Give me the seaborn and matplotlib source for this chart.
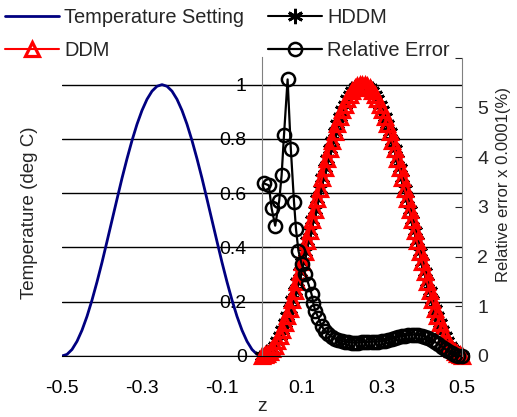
import numpy as np
import matplotlib
matplotlib.use('Agg')
import matplotlib.pyplot as plt
import seaborn as sns
from matplotlib.lines import Line2D

# temperature setting, z from -0.5 to 0
temp_setting = [0, 0.006, 0.024, 0.054, 0.095, 0.146, 0.206, 0.273, 0.345, 0.422,
                0.5, 0.578, 0.655, 0.727, 0.794, 0.854, 0.905, 0.946, 0.976, 0.994,
                1.0, 0.994, 0.976, 0.946, 0.905, 0.854, 0.794, 0.727, 0.655, 0.578,
                0.5, 0.422, 0.345, 0.273, 0.206, 0.146, 0.095, 0.054, 0.024, 0.006, 0]

# DDM / HDDM results, z from 0 to 0.5
ddm = [0, 0.002, 0.006, 0.014, 0.024, 0.038, 0.054, 0.074, 0.095, 0.120,
       0.146, 0.175, 0.206, 0.239, 0.273, 0.309, 0.345, 0.383, 0.422, 0.461,
       0.5, 0.539, 0.578, 0.617, 0.655, 0.691, 0.727, 0.761, 0.794, 0.825,
       0.854, 0.880, 0.905, 0.926, 0.946, 0.962, 0.976, 0.986, 0.994, 0.998,
       1.0, 0.998, 0.994, 0.986, 0.976, 0.962, 0.946, 0.926, 0.905, 0.880,
       0.854, 0.825, 0.794, 0.761, 0.727, 0.691, 0.655, 0.617, 0.578, 0.539,
       0.5, 0.461, 0.422, 0.383, 0.345, 0.309, 0.273, 0.239, 0.206, 0.175,
       0.146, 0.120, 0.095, 0.074, 0.054, 0.038, 0.024, 0.014, 0.006, 0.002, 0]
hddm = list(ddm)

# relative error (x 0.0001 %)
err_z = [0.005, 0.017, 0.024, 0.033, 0.043, 0.049, 0.055, 0.064, 0.072, 0.080,
         0.085, 0.091, 0.099, 0.108, 0.116, 0.124, 0.128, 0.133, 0.141, 0.149,
         0.158, 0.166, 0.175, 0.183, 0.191, 0.200, 0.208, 0.216, 0.225, 0.233,
         0.241, 0.250, 0.258, 0.266, 0.275, 0.283, 0.291, 0.300, 0.308, 0.316,
         0.325, 0.333, 0.341, 0.350, 0.358, 0.366, 0.375, 0.383, 0.391, 0.400,
         0.408, 0.416, 0.425, 0.433, 0.441, 0.450, 0.458, 0.466, 0.475, 0.483,
         0.491, 0.500]
rel_err = [3.47, 3.43, 2.97, 2.62, 3.12, 3.63, 4.44, 5.56, 4.17, 3.10,
           2.55, 2.12, 1.85, 1.65, 1.45, 1.24, 1.07, 0.91, 0.77, 0.60,
           0.50, 0.44, 0.39, 0.35, 0.32, 0.30, 0.29, 0.28, 0.27, 0.27,
           0.27, 0.28, 0.28, 0.28, 0.29, 0.29, 0.29, 0.30, 0.31, 0.32,
           0.34, 0.36, 0.38, 0.40, 0.41, 0.42, 0.43, 0.43, 0.42, 0.41,
           0.39, 0.36, 0.32, 0.28, 0.24, 0.19, 0.14, 0.10, 0.06, 0.03,
           0.01, 0.00]

x_ticks = [-0.5, -0.3, -0.1, 0.1, 0.3, 0.5]
x_labels = ['-0.5', '-0.3', '-0.1', '0.1', '0.3', '0.5']
temp_ticks = [0, 0.2, 0.4, 0.6, 0.8, 1.0]
temp_labels = ['0', '0.2', '0.4', '0.6', '0.8', '1']
err_ticks = [0, 1, 2, 3, 4, 5, 6]
err_labels = ['0', '1', '2', '3', '4', '5', '']

temp_z = np.linspace(-0.5, 0, len(temp_setting))
sim_z = np.linspace(0, 0.5, len(ddm))

sns.set_style('white')
plt.rcParams['font.family'] = ['Liberation Sans', 'DejaVu Sans']
plt.rcParams['font.size'] = 14

fig = plt.figure(figsize=(5.17, 4.17), dpi=100)
ax = fig.add_axes([62 / 517, 61 / 417, 400 / 517, 298.5 / 417])
ax2 = ax.twinx()

temp_kw = dict(color='#000080', linewidth=2)
hddm_kw = dict(color='black', linewidth=1.5, marker=(6, 2, 0), markersize=11,
               markeredgewidth=2, markeredgecolor='black')
ddm_kw = dict(color='red', linewidth=1.5, marker='^', markersize=10.5, markerfacecolor='none',
              markeredgecolor='red', markeredgewidth=2.3)
err_kw = dict(color='black', linewidth=1.6, marker='o', markersize=9.5, markerfacecolor='none',
              markeredgecolor='black', markeredgewidth=1.8)

sns.lineplot(x=temp_z, y=temp_setting, ax=ax, estimator=None, legend=False, **temp_kw)
sns.lineplot(x=sim_z, y=hddm, ax=ax, estimator=None, legend=False, clip_on=False, **hddm_kw)
sns.lineplot(x=sim_z, y=ddm, ax=ax, estimator=None, legend=False, clip_on=False, **ddm_kw)
sns.lineplot(x=err_z, y=rel_err, ax=ax2, estimator=None, legend=False, clip_on=False, **err_kw)

ax.set_xlim(-0.5, 0.5)
ax.set_ylim(0, 1.1)
ax.set_xticks(x_ticks, x_labels)
ax.set_yticks(temp_ticks, temp_labels)
ax.grid(axis='y', color='black', linewidth=1)
ax.grid(axis='x', visible=False)
ax.set_axisbelow(True)
for s in ['top', 'right']:
    ax.spines[s].set_visible(False)
ax.spines['left'].set_position(('data', 0))
ax.spines['left'].set_color('#808080')
ax.spines['bottom'].set_color('black')
ax.tick_params(axis='x', direction='in', length=6, pad=17, colors='black')
ax.tick_params(axis='y', direction='in', length=6, pad=11, colors='black')
ax.set_xlabel('z')
ax.xaxis.set_label_coords(0.5, -0.14)
ax.set_ylabel('Temperature (deg C)', fontsize=13.5)
ax.yaxis.set_label_coords(-0.06, 0.48)

ax2.set_ylim(0, 6)
ax2.set_yticks(err_ticks, err_labels)
for s in ['top', 'left', 'bottom']:
    ax2.spines[s].set_visible(False)
ax2.spines['right'].set_color('#808080')
ax2.tick_params(axis='y', direction='in', length=5, pad=11)
ax2.set_ylabel('Relative error x 0.0001(%)', fontsize=12)
ax2.yaxis.set_label_coords(1.085, 0.575)

handles = [Line2D([], [], **temp_kw), Line2D([], [], **ddm_kw),
           Line2D([], [], **hddm_kw), Line2D([], [], **err_kw)]
labels = ['Temperature Setting', 'DDM', 'HDDM', 'Relative Error']
fig.legend(handles, labels, ncol=2, loc='upper left', bbox_to_anchor=(0.01, 0.982),
           frameon=False, handlelength=2.7, handletextpad=0.25, columnspacing=1.2,
           labelspacing=0.72, borderpad=0, borderaxespad=0, fontsize=14.4)

fig.savefig('out.png', dpi=100)
